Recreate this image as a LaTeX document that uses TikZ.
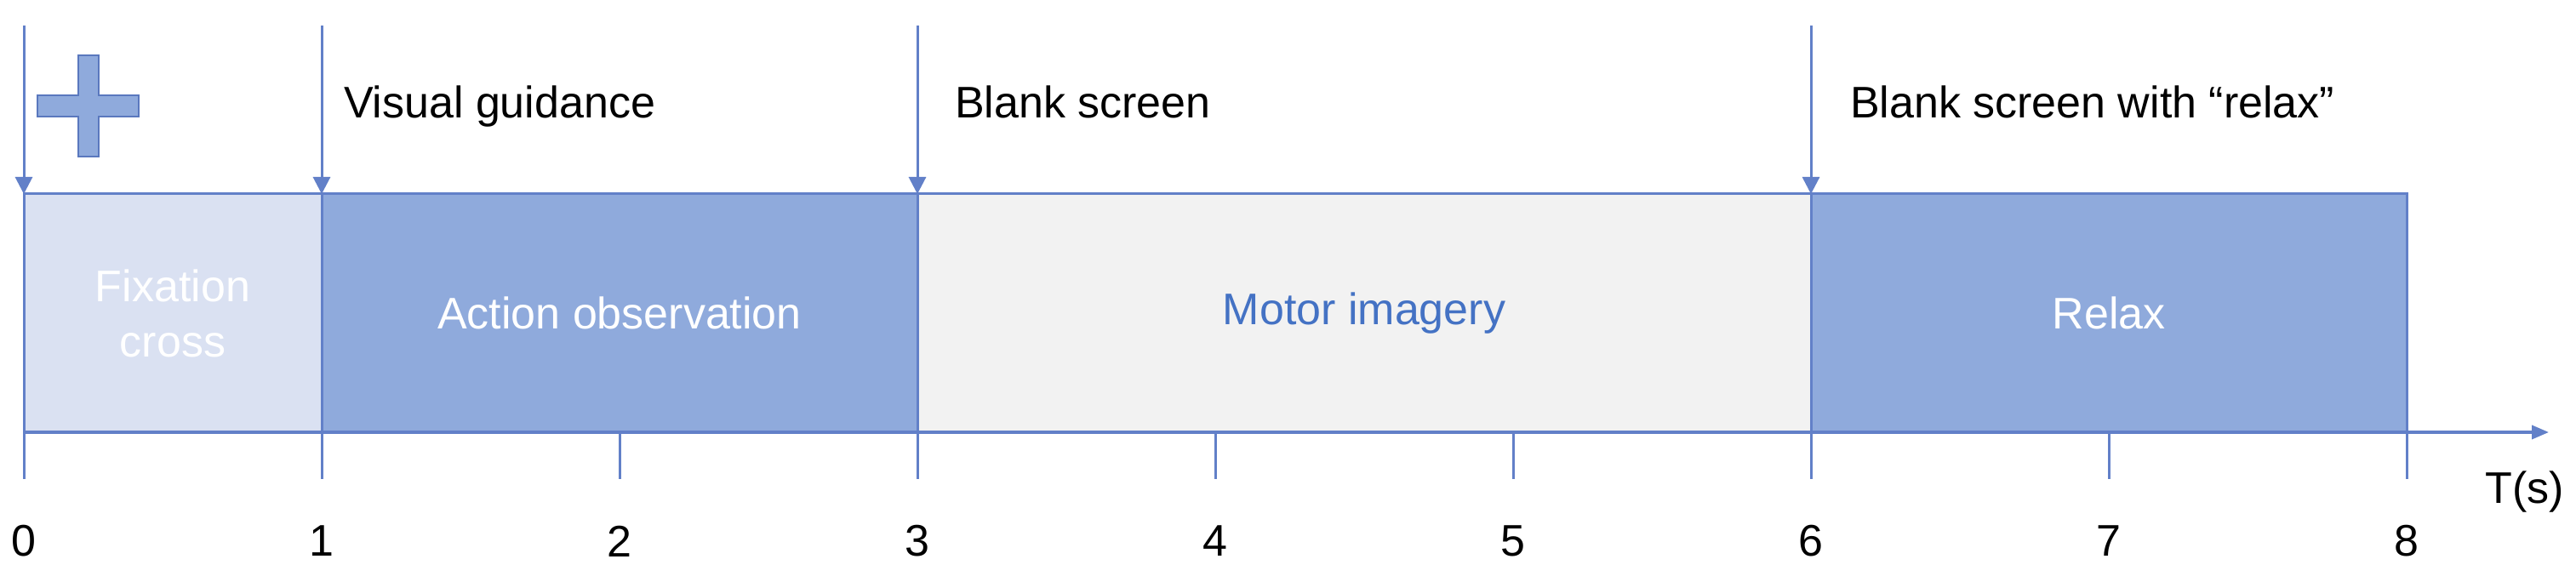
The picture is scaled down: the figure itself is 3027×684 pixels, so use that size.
\documentclass[tikz,border=0pt]{standalone}
\usepackage{fontspec}
\setmainfont{Liberation Sans}
\usetikzlibrary{arrows.meta}
\definecolor{lineblue}{RGB}{98,128,200}
\definecolor{fixfill}{RGB}{218,225,242}
\definecolor{actfill}{RGB}{143,170,220}
\definecolor{motfill}{RGB}{242,242,242}
\definecolor{mottext}{RGB}{68,114,196}
\definecolor{crossfill}{RGB}{143,170,220}
\definecolor{crossdraw}{RGB}{90,120,190}
\begin{document}
\begin{tikzpicture}[x=0.25pt,y=-0.25pt,
  txt/.style={font=\fontsize{13pt}{16.25pt}\selectfont, inner sep=0pt, outer sep=0pt},
  phase/.style={txt, draw=lineblue, line width=0.75pt, minimum height=70pt, align=center},
  marker/.style={draw=lineblue, line width=0.75pt, -{Triangle[length=5pt,width=5pt]}},
  tickst/.style={draw=lineblue, line width=0.75pt},
  axisst/.style={draw=lineblue, line width=0.9pt, -{Triangle[length=5pt,width=4pt]}},
  toplabel/.style={txt, anchor=base west, text=black},
  numlabel/.style={txt, text=black},
  crossst/.style={fill=crossfill, draw=crossdraw, line width=0.5pt}]
\useasboundingbox (0,0) rectangle (3027,684);
% phase boxes
\node[phase, fill=fixfill, text=white, minimum width=87.5pt] (fix) at (203,368) {Fixation\\cross};
\node[phase, fill=actfill, text=white, minimum width=175pt] (act) at (728,368) {Action observation};
\node[phase, fill=motfill, text=mottext, minimum width=262.5pt] (mot) at (1603,368) {Motor imagery};
\node[phase, fill=actfill, text=white, minimum width=175pt] (rel) at (2478,368) {Relax};
% event markers
\coordinate (m0) at (28,30);
\coordinate (m1) at (378,30);
\coordinate (m3) at (1078,30);
\coordinate (m6) at (2128,30);
\draw[marker] (m0) -- (fix.north west);
\draw[marker] (m1) -- (act.north west);
\draw[marker] (m3) -- (mot.north west);
\draw[marker] (m6) -- (rel.north west);
% fixation cross symbol
\draw[crossst] (92,65) -- (116,65) -- (116,112) -- (163,112) -- (163,137) -- (116,137) -- (116,184) -- (92,184) -- (92,137) -- (44,137) -- (44,112) -- (92,112) -- cycle;
% top labels
\node[toplabel] (lvg) at (404,138) {Visual guidance};
\node[toplabel] (lbs) at (1122,138) {Blank screen};
\node[toplabel] (lbr) at (2174,138) {Blank screen with “relax”};
% time axis
\coordinate (axend) at (2995,508);
\draw[axisst] (fix.south west) -- (axend);
\foreach \i in {0,...,8}{
  \coordinate (b\i) at ({28+350*\i},508);
  \coordinate (e\i) at ({28+350*\i},563);
  \draw[tickst] (b\i) -- (e\i);
  \node[numlabel] (n\i) at ({28+350*\i},636) {\i};
}
\node[numlabel] (ts) at (2967,578) {T(s)};
\end{tikzpicture}
\end{document}
